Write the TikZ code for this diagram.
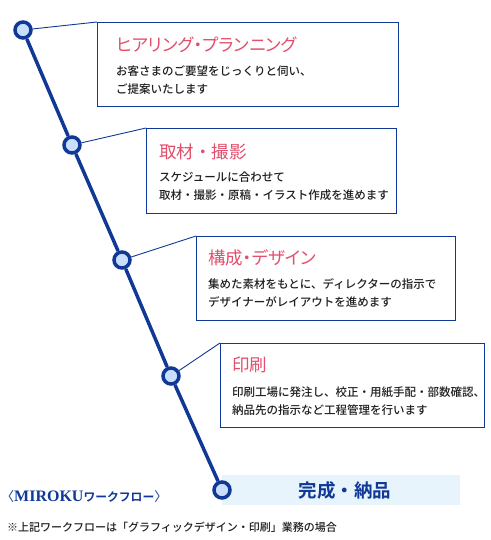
\documentclass[tikz,border=0pt]{standalone}
\usepackage{fontspec}
\setmainfont{Noto Sans CJK JP}
\newfontfamily\cjkbold{Noto Sans CJK JP Bold}
\newfontfamily\cjkmedium{Noto Sans CJK JP Medium}
\newfontfamily\titlekana[RawFeature=+palt]{Noto Sans CJK JP}
\newfontfamily\romanbold{Liberation Serif}
\usepackage{tikz}
\usetikzlibrary{positioning}

\definecolor{flowblue}{RGB}{16,56,150}
\definecolor{dotfill}{RGB}{200,222,250}
\definecolor{titlepink}{RGB}{226,78,108}
\definecolor{bandblue}{RGB}{232,244,252}
\definecolor{bodygray}{RGB}{30,30,30}

\tikzset{
  stepdot/.style={circle,draw=flowblue,fill=dotfill,line width=3.5pt,minimum size=16pt,inner sep=0},
  stepbox/.style={draw=flowblue,line width=1.2pt,anchor=north west,inner sep=0},
  link/.style={flowblue,line width=0.9pt},
  steptitle/.style={anchor=west,inner sep=0,text=titlepink,font=\fontsize{17.5}{18}\selectfont},
  stepbody/.style={anchor=west,inner sep=0,align=left,text=bodygray,font=\cjkmedium\fontsize{11.5}{18}\selectfont}
}

\begin{document}
\begin{tikzpicture}[x=1pt,y=-1pt]
\useasboundingbox (0,0) rectangle (490,540);
% band behind the last step
\fill[bandblue] (222,475) rectangle (460,505);
% steps
\node[stepdot] (c1) at (23,30) {};
\node[stepdot] (c2) at (72,145) {};
\node[stepdot] (c3) at (122,260) {};
\node[stepdot] (c4) at (171,376) {};
\node[stepdot] (c5) at (222,490) {};
\draw[flowblue,line width=3.5pt] (c1) -- (c2) -- (c3) -- (c4) -- (c5);
% boxes
\node[stepbox,minimum width=301pt,minimum height=84pt] (b1) at (97,22) {};
\node[stepbox,minimum width=250pt,minimum height=85pt] (b2) at (146,128) {};
\node[stepbox,minimum width=259pt,minimum height=84pt] (b3) at (196,236) {};
\node[stepbox,minimum width=264pt,minimum height=84pt] (b4) at (220,343) {};
\draw[link] (c1) -- (b1.north west);
\draw[link] (c2) -- (b2.north west);
\draw[link] (c3) -- (b3.north west);
\draw[link] (c4) -- (b4.north west);
% texts
\node[steptitle] (t1) at ([shift={(19,23)}]b1.north west) {\titlekana ヒアリング・プランニング};
\node[stepbody] (d1) at ([shift={(19,58)}]b1.north west) {お客さまのご要望をじっくりと伺い、\\ご提案いたします};
\node[steptitle] (t2) at ([shift={(13,24)}]b2.north west) {取材・撮影};
\node[stepbody] (d2) at ([shift={(13,58.5)}]b2.north west) {スケジュールに合わせて\\取材・撮影・原稿・イラスト作成を進めます};
\node[steptitle] (t3) at ([shift={(12,22)}]b3.north west) {\titlekana 構成・デザイン};
\node[stepbody] (d3) at ([shift={(12,57)}]b3.north west) {集めた素材をもとに、ディレクターの指示で\\デザイナーがレイアウトを進めます};
\node[steptitle] (t4) at ([shift={(12,22)}]b4.north west) {印刷};
\node[stepbody] (d4) at ([shift={(12,58)}]b4.north west) {印刷工場に発注し、校正・用紙手配・部数確認、\\納品先の指示など工程管理を行います};
\node[text=flowblue,font=\cjkbold\fontsize{18.5}{20}\selectfont] (t5) at (345,490) {完成・納品};
% label and note
\node[anchor=west,inner sep=0,text=flowblue] (lbl) at (1,497)
  {{\fontsize{13}{14}\selectfont 〈}{\romanbold\bfseries\fontsize{16}{17}\selectfont MIROKU}{\cjkbold\fontsize{11.8}{12}\selectfont ワークフロー}{\fontsize{13}{14}\selectfont 〉}};
\node[anchor=west,inner sep=0,text=bodygray,font=\cjkmedium\fontsize{11}{12}\selectfont] (note) at (7,527)
  {※上記ワークフローは「グラフィックデザイン・印刷」業務の場合};
\end{tikzpicture}
\end{document}
